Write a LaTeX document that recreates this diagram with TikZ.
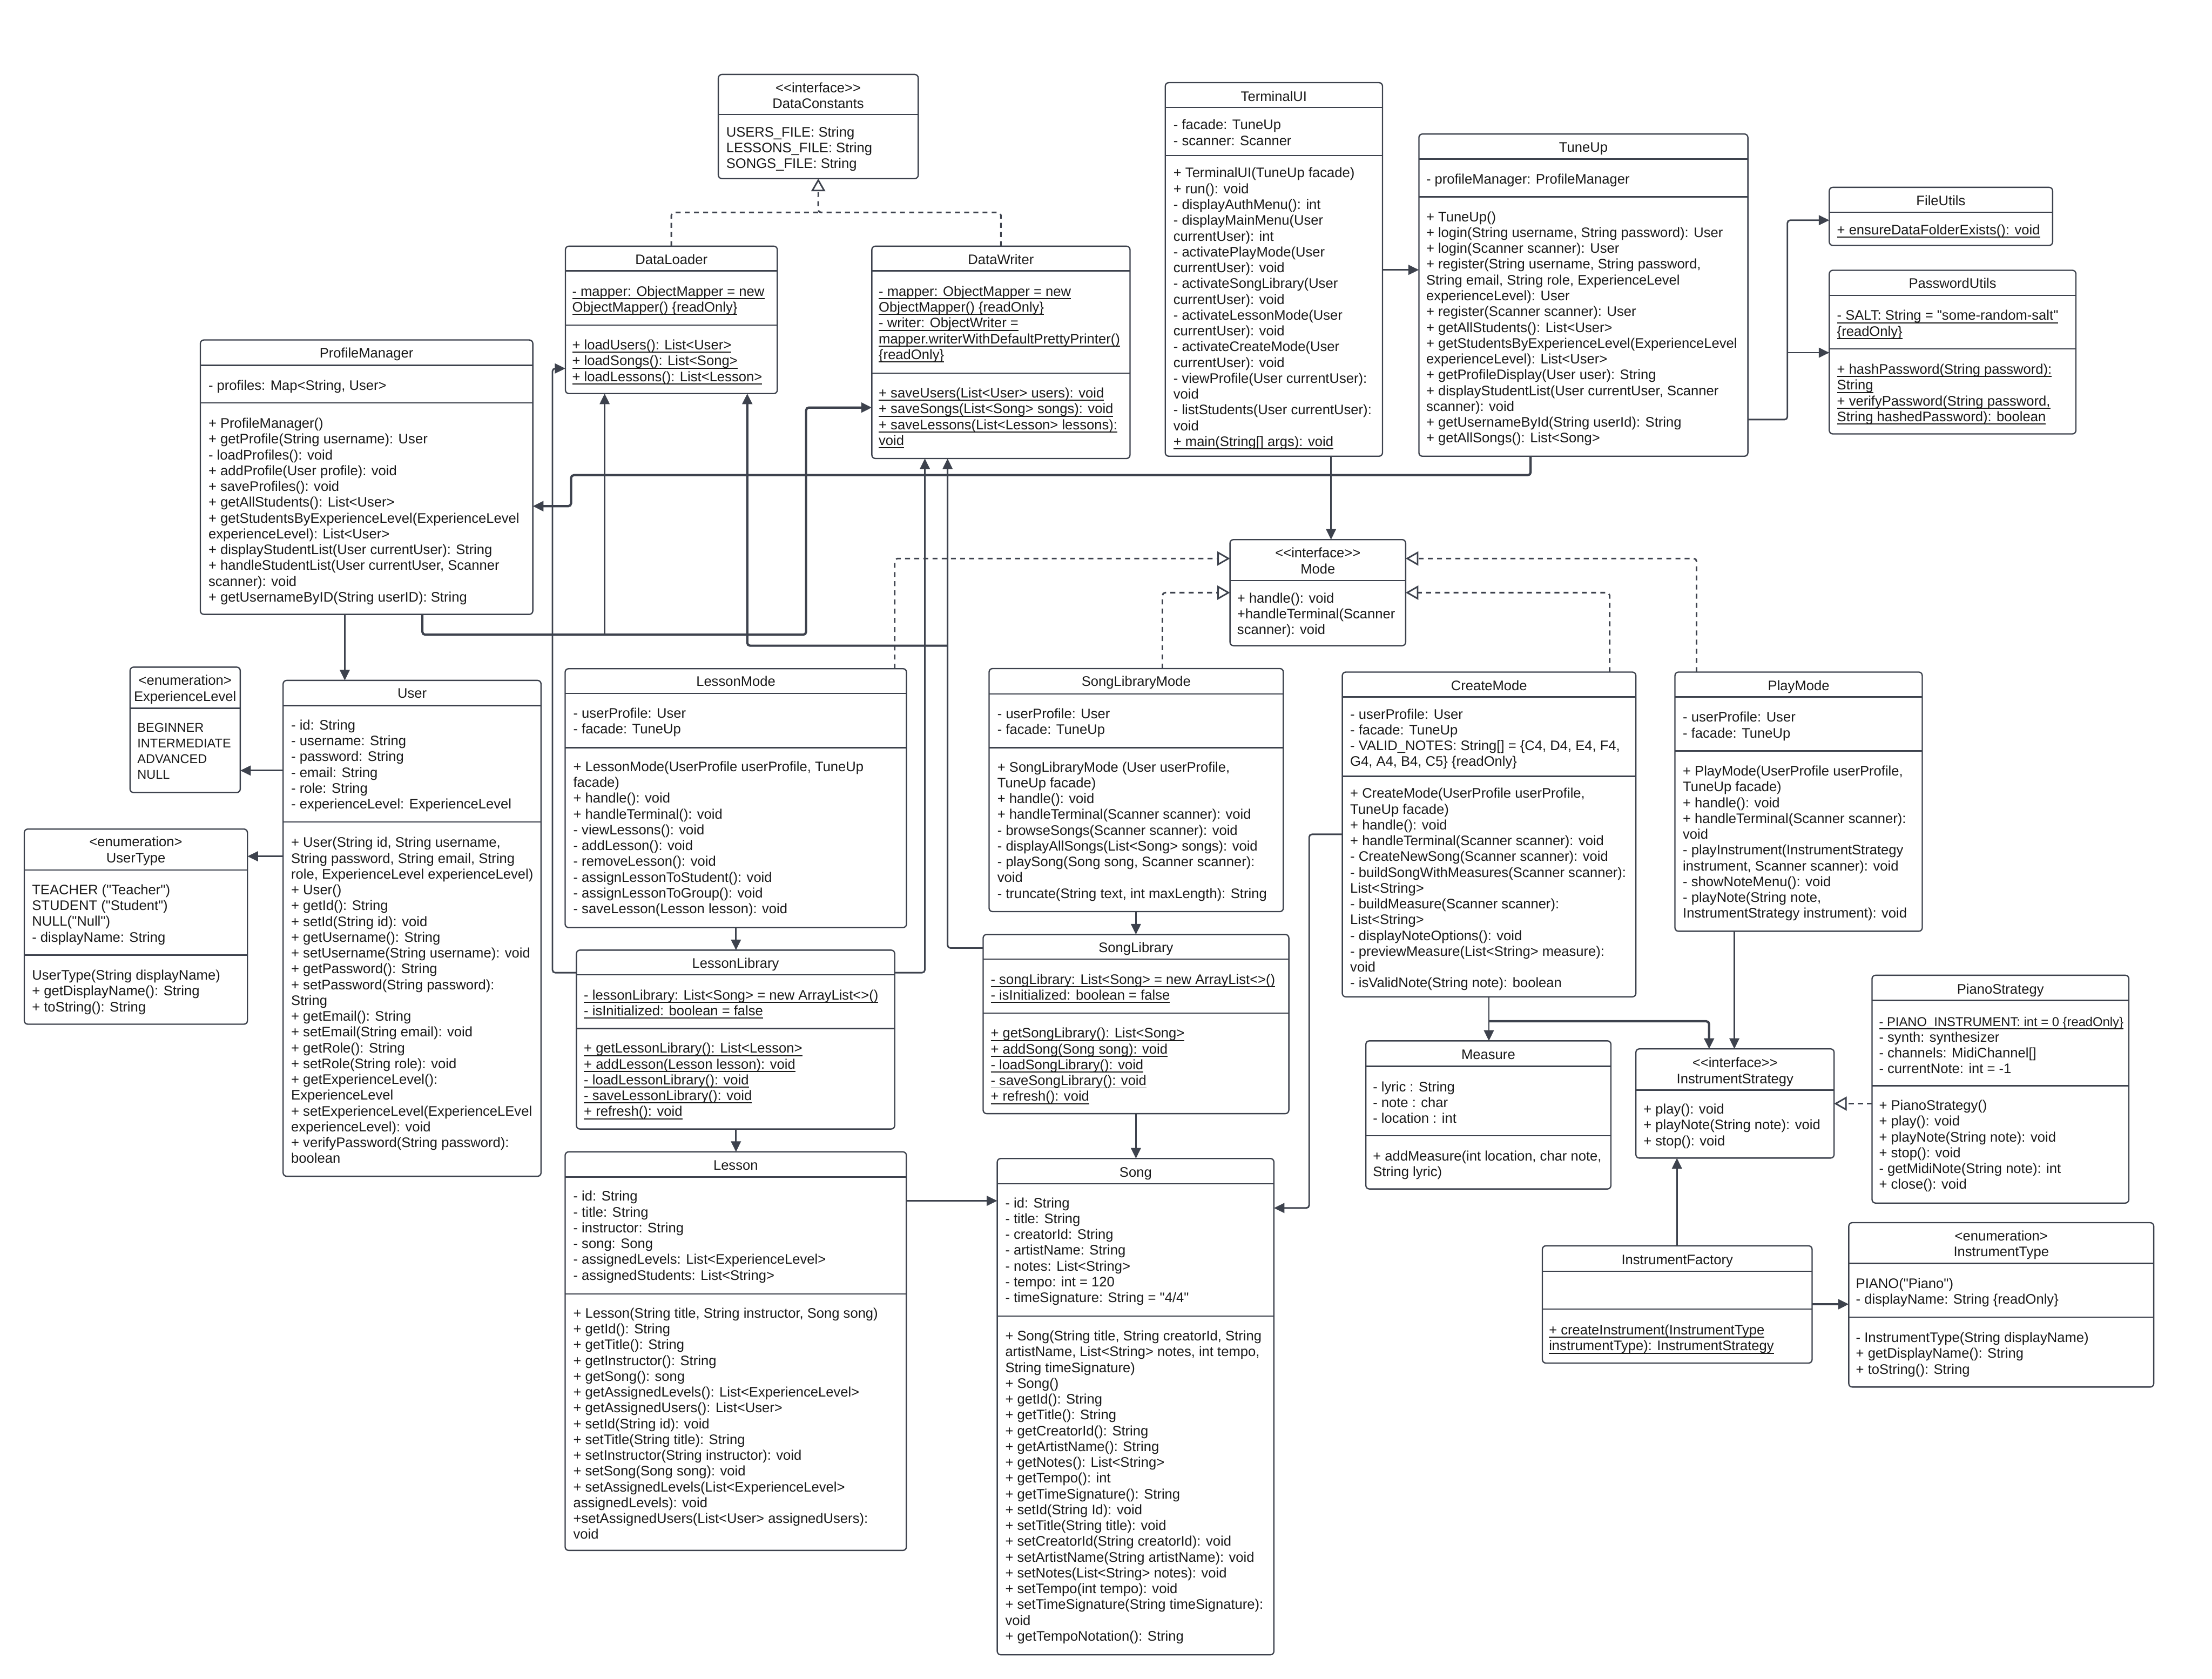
\documentclass[tikz,border=0pt]{standalone}
\usepackage{fontspec}
\setmainfont{Liberation Sans}[Ligatures=TeXOff]
\usetikzlibrary{arrows.meta}
\definecolor{ln}{HTML}{3D424D}
\definecolor{tx}{HTML}{1A1A1A}
\newsavebox\ulbx
\newcommand\uln[1]{\sbox\ulbx{#1}\rlap{\rule[-2.2pt]{\wd\ulbx}{0.75pt}}\usebox\ulbx}
\tikzset{
 clsbox/.style={draw=ln, line width=0.9pt, rounded corners=2.5pt, fill=white, inner sep=0pt, outer sep=0pt},
 divline/.style={draw=ln, line width=0.9pt},
 txt/.style={anchor=north west, inner sep=0pt, align=left, font=\fontsize{9.8}{11.2}\selectfont, text=tx},
 ttl/.style={anchor=north, inner sep=0pt, align=center, font=\fontsize{9.8}{11.2}\selectfont, text=tx},
 assoc/.style={draw=ln, line width=1.1pt, rounded corners=2pt, -{Triangle[length=7.5pt,width=7pt]}},
 bold/.style={line width=1.6pt},
 real/.style={draw=ln, line width=1.1pt, rounded corners=2pt, dash pattern=on 3.5pt off 3pt, -{Triangle[open,length=9pt,width=10pt,line width=1.1pt]}},
 realplain/.style={draw=ln, line width=1.1pt, rounded corners=2pt, dash pattern=on 3.5pt off 3pt},
}
\newcommand\umlbox[6]{%
 \node[clsbox, anchor=north west, minimum width={(#4-#2)*1pt}, minimum height={(#5-#3)*1pt}] (#1) at (#2,#3) {};
 \foreach \dv in {#6} {\draw[divline] (#2,\dv) -- (#4,\dv);}
}
\begin{document}
\begin{tikzpicture}[x=1pt,y=-1pt]
\useasboundingbox[fill=white] (0,0) rectangle (1568,1190);

% ---------- boxes ----------
\umlbox{DC}{509.2}{52.8}{650.9}{126.6}{81.2}
\node[ttl] (DCt) at (580,57.7) {\strut <<interface>>\\DataConstants};
\node[txt] (DCa) at (514.6,89) {\strut USERS\_FILE: String\\LESSONS\_FILE: String\\SONGS\_FILE: String};

\umlbox{DL}{400.8}{174.5}{551}{279}{192,230.4}
\node[ttl] (DLt) at (475.9,179.4) {\strut DataLoader};
\node[txt] (DLa) at (405.4,201.9) {\strut\uln{- mapper: ObjectMapper = new}\\\uln{ObjectMapper() \{readOnly\}}};
\node[txt] (DLm) at (405.4,239.9) {\strut\uln{+ loadUsers(): List<User>}\\\uln{+ loadSongs(): List<Song>}\\\uln{+ loadLessons(): List<Lesson>}};

\umlbox{DW}{618}{174.5}{801}{325}{192,264.5}
\node[ttl] (DWt) at (709.5,179.4) {\strut DataWriter};
\node[txt] (DWa) at (622.7,201.9) {\strut\uln{- mapper: ObjectMapper = new}\\\uln{ObjectMapper() \{readOnly\}}\\\uln{- writer: ObjectWriter =}\\\uln{mapper.writerWithDefaultPrettyPrinter()}\\\uln{\{readOnly\}}};
\node[txt] (DWm) at (622.7,273.9) {\strut\uln{+ saveUsers(List<User> users): void}\\\uln{+ saveSongs(List<Song> songs): void}\\\uln{+ saveLessons(List<Lesson> lessons):}\\\uln{void}};

\umlbox{TUI}{826}{58.6}{980}{323.4}{76.3,110.2}
\node[ttl] (TUIt) at (903,63.7) {\strut TerminalUI};
\node[txt] (TUIa) at (831.6,83.8) {\strut - facade: TuneUp\\- scanner: Scanner};
\node[txt] (TUIm) at (831.6,117.9) {\strut + TerminalUI(TuneUp facade)\\+ run(): void\\- displayAuthMenu(): int\\- displayMainMenu(User\\currentUser): int\\- activatePlayMode(User\\currentUser): void\\- activateSongLibrary(User\\currentUser): void\\- activateLessonMode(User\\currentUser): void\\- activateCreateMode(User\\currentUser): void\\- viewProfile(User currentUser):\\void\\- listStudents(User currentUser):\\void\\\uln{+ main(String[] args): void}};

\umlbox{TU}{1005.8}{95}{1239}{323.4}{112.7,139.5}
\node[ttl] (TUt) at (1122.4,99.7) {\strut TuneUp};
\node[txt] (TUa) at (1010.8,122.3) {\strut - profileManager: ProfileManager};
\node[txt] (TUm) at (1010.8,149) {\strut + TuneUp()\\+ login(String username, String password): User\\+ login(Scanner scanner): User\\+ register(String username, String password,\\String email, String role, ExperienceLevel\\experienceLevel): User\\+ register(Scanner scanner): User\\+ getAllStudents(): List<User>\\+ getStudentsByExperienceLevel(ExperienceLevel\\experienceLevel): List<User>\\+ getProfileDisplay(User user): String\\+ displayStudentList(User currentUser, Scanner\\scanner): void\\+ getUsernameById(String userId): String\\+ getAllSongs(): List<Song>};

\umlbox{FU}{1296.7}{132.8}{1455}{174}{150.5}
\node[ttl] (FUt) at (1375.8,137.5) {\strut FileUtils};
\node[txt] (FUm) at (1302,158.2) {\strut\uln{+ ensureDataFolderExists(): void}};

\umlbox{PU}{1296.7}{191.6}{1471.5}{307.6}{209.3,247.3}
\node[ttl] (PUt) at (1384.1,196.2) {\strut PasswordUtils};
\node[txt] (PUa) at (1302,218.9) {\strut\uln{- SALT: String = "some-random-salt"}\\\uln{\{readOnly\}}};
\node[txt] (PUm) at (1302,257.1) {\strut\uln{+ hashPassword(String password):}\\\uln{String}\\\uln{+ verifyPassword(String password,}\\\uln{String hashedPassword): boolean}};

\umlbox{PM}{142}{241}{377.7}{435.5}{259,285.6}
\node[ttl] (PMt) at (259.8,245.7) {\strut ProfileManager};
\node[txt] (PMa) at (147.6,268.7) {\strut - profiles: Map<String, User>};
\node[txt] (PMm) at (147.6,295.4) {\strut + ProfileManager()\\+ getProfile(String username): User\\- loadProfiles(): void\\+ addProfile(User profile): void\\+ saveProfiles(): void\\+ getAllStudents(): List<User>\\+ getStudentsByExperienceLevel(ExperienceLevel\\experienceLevel): List<User>\\+ displayStudentList(User currentUser): String\\+ handleStudentList(User currentUser, Scanner\\scanner): void\\+ getUsernameByID(String userID): String};

\umlbox{EL}{92.2}{472.9}{170.3}{561.8}{502}
\node[ttl] (ELt) at (131.2,477.7) {\strut <enumeration>\\ExperienceLevel};
\node[txt, font=\fontsize{9}{11.2}\selectfont] (ELa) at (97.2,510.7) {\strut BEGINNER\\INTERMEDIATE\\ADVANCED\\NULL};

\umlbox{UT}{17.2}{587.7}{175.4}{726}{616.6,677}
\node[ttl] (UTt) at (96.3,592.2) {\strut <enumeration>\\UserType};
\node[txt] (UTa) at (22.5,626) {\strut TEACHER ("Teacher")\\STUDENT ("Student")\\NULL("Null")\\- displayName: String};
\node[txt] (UTm) at (22.5,686.6) {\strut UserType(String displayName)\\+ getDisplayName(): String\\+ toString(): String};

\umlbox{US}{200.7}{482.3}{383.5}{833.8}{500.1,582.7}
\node[ttl] (USt) at (292.1,486.6) {\strut User};
\node[txt] (USa) at (206.2,509.3) {\strut - id: String\\- username: String\\- password: String\\- email: String\\- role: String\\- experienceLevel: ExperienceLevel};
\node[txt] (USm) at (206.2,592.5) {\strut + User(String id, String username,\\String password, String email, String\\role, ExperienceLevel experienceLevel)\\+ User()\\+ getId(): String\\+ setId(String id): void\\+ getUsername(): String\\+ setUsername(String username): void\\+ getPassword(): String\\+ setPassword(String password):\\String\\+ getEmail(): String\\+ setEmail(String email): void\\+ getRole(): String\\+ setRole(String role): void\\+ getExperienceLevel():\\ExperienceLevel\\+ setExperienceLevel(ExperienceLEvel\\experienceLevel): void\\+ verifyPassword(String password):\\boolean};

\umlbox{LM}{400.6}{474}{642.6}{657.5}{491.6,530}
\node[ttl] (LMt) at (521.6,478.4) {\strut LessonMode};
\node[txt] (LMa) at (406.2,500.9) {\strut - userProfile: User\\- facade: TuneUp};
\node[txt] (LMm) at (406.2,538.7) {\strut + LessonMode(UserProfile userProfile, TuneUp\\facade)\\+ handle(): void\\+ handleTerminal(): void\\- viewLessons(): void\\- addLesson(): void\\- removeLesson(): void\\- assignLessonToStudent(): void\\- assignLessonToGroup(): void\\- saveLesson(Lesson lesson): void};

\umlbox{LL}{408.6}{673.5}{634.2}{800.3}{691,729}
\node[ttl] (LLt) at (521.4,678.3) {\strut LessonLibrary};
\node[txt] (LLa) at (413.7,700.7) {\strut\uln{- lessonLibrary: List<Song> = new ArrayList<>()}\\\uln{- isInitialized: boolean = false}};
\node[txt] (LLm) at (413.7,738.4) {\strut\uln{+ getLessonLibrary(): List<Lesson>}\\\uln{+ addLesson(Lesson lesson): void}\\\uln{- loadLessonLibrary(): void}\\\uln{- saveLessonLibrary(): void}\\\uln{+ refresh(): void}};

\umlbox{LE}{400.6}{816.5}{642.5}{1099}{834.3,917.3}
\node[ttl] (LEt) at (521.5,821.2) {\strut Lesson};
\node[txt] (LEa) at (406.2,843.3) {\strut - id: String\\- title: String\\- instructor: String\\- song: Song\\- assignedLevels: List<ExperienceLevel>\\- assignedStudents: List<String>};
\node[txt] (LEm) at (406.2,926.1) {\strut + Lesson(String title, String instructor, Song song)\\+ getId(): String\\+ getTitle(): String\\+ getInstructor(): String\\+ getSong(): song\\+ getAssignedLevels(): List<ExperienceLevel>\\+ getAssignedUsers(): List<User>\\+ setId(String id): void\\+ setTitle(String title): String\\+ setInstructor(String instructor): void\\+ setSong(Song song): void\\+ setAssignedLevels(List<ExperienceLevel>\\assignedLevels): void\\+setAssignedUsers(List<User> assignedUsers):\\void};

\umlbox{SLM}{701.1}{473.9}{909.7}{646.2}{491.8,530}
\node[ttl] (SLMt) at (805.4,478.3) {\strut SongLibraryMode};
\node[txt] (SLMa) at (706.8,501.1) {\strut - userProfile: User\\- facade: TuneUp};
\node[txt] (SLMm) at (706.8,539) {\strut + SongLibraryMode (User userProfile,\\TuneUp facade)\\+ handle(): void\\+ handleTerminal(Scanner scanner): void\\- browseSongs(Scanner scanner): void\\- displayAllSongs(List<Song> songs): void\\- playSong(Song song, Scanner scanner):\\void\\- truncate(String text, int maxLength): String};

\umlbox{SL}{696.9}{662.4}{913.6}{789.4}{679.9,718.2}
\node[ttl] (SLt) at (805.2,667) {\strut SongLibrary};
\node[txt] (SLa) at (702.1,689.5) {\strut\uln{- songLibrary: List<Song> = new ArrayList<>()}\\\uln{- isInitialized: boolean = false}};
\node[txt] (SLm) at (702.1,727.7) {\strut\uln{+ getSongLibrary(): List<Song>}\\\uln{+ addSong(Song song): void}\\\uln{- loadSongLibrary(): void}\\\uln{- saveSongLibrary(): void}\\\uln{+ refresh(): void}};

\umlbox{SO}{706.9}{821.2}{903}{1173}{839.2,932.9}
\node[ttl] (SOt) at (805,826.2) {\strut Song};
\node[txt] (SOa) at (712.4,848) {\strut - id: String\\- title: String\\- creatorId: String\\- artistName: String\\- notes: List<String>\\- tempo: int = 120\\- timeSignature: String = "4/4"};
\node[txt] (SOm) at (712.4,942.3) {\strut + Song(String title, String creatorId, String\\artistName, List<String> notes, int tempo,\\String timeSignature)\\+ Song()\\+ getId(): String\\+ getTitle(): String\\+ getCreatorId(): String\\+ getArtistName(): String\\+ getNotes(): List<String>\\+ getTempo(): int\\+ getTimeSignature(): String\\+ setId(String Id): void\\+ setTitle(String title): void\\+ setCreatorId(String creatorId): void\\+ setArtistName(String artistName): void\\+ setNotes(List<String> notes): void\\+ setTempo(int tempo): void\\+ setTimeSignature(String timeSignature):\\void\\+ getTempoNotation(): String};

\umlbox{MO}{871.9}{382.5}{996.4}{457.7}{411.6}
\node[ttl] (MOt) at (934.2,387.4) {\strut <<interface>>\\Mode};
\node[txt] (MOm) at (876.8,419.3) {\strut + handle(): void\\+handleTerminal(Scanner\\scanner): void};

\umlbox{CM}{951.5}{476.4}{1159.6}{706.6}{494,550.3}
\node[ttl] (CMt) at (1055.5,481.2) {\strut CreateMode};
\node[txt] (CMa) at (956.9,501.5) {\strut - userProfile: User\\- facade: TuneUp\\- VALID\_NOTES: String[] = \{C4, D4, E4, F4,\\G4, A4, B4, C5\} \{readOnly\}};
\node[txt] (CMm) at (956.9,557.7) {\strut + CreateMode(UserProfile userProfile,\\TuneUp facade)\\+ handle(): void\\+ handleTerminal(Scanner scanner): void\\- CreateNewSong(Scanner scanner): void\\- buildSongWithMeasures(Scanner scanner):\\List<String>\\- buildMeasure(Scanner scanner):\\List<String>\\- displayNoteOptions(): void\\- previewMeasure(List<String> measure):\\void\\- isValidNote(String note): boolean};

\umlbox{PL}{1187.3}{476.4}{1362.6}{660.1}{494,532.3}
\node[ttl] (PLt) at (1275,481.2) {\strut PlayMode};
\node[txt] (PLa) at (1192.7,503.7) {\strut - userProfile: User\\- facade: TuneUp};
\node[txt] (PLm) at (1192.7,541.9) {\strut + PlayMode(UserProfile userProfile,\\TuneUp facade)\\+ handle(): void\\+ handleTerminal(Scanner scanner):\\void\\- playInstrument(InstrumentStrategy\\instrument, Scanner scanner): void\\- showNoteMenu(): void\\- playNote(String note,\\InstrumentStrategy instrument): void};

\umlbox{ME}{968.2}{737.8}{1141.9}{842.8}{755.8,805}
\node[ttl] (MEt) at (1055,742.9) {\strut Measure};
\node[txt] (MEa) at (973,765.7) {\strut - lyric : String\\- note : char\\- location : int};
\node[txt] (MEm) at (973,814.7) {\strut + addMeasure(int location, char note,\\String lyric)};

\umlbox{IS}{1159.6}{743.5}{1300.1}{820.9}{772.7}
\node[ttl] (ISt) at (1229.9,748.7) {\strut <<interface>>\\InstrumentStrategy};
\node[txt] (ISm) at (1164.8,781.5) {\strut + play(): void\\+ playNote(String note): void\\+ stop(): void};

\umlbox{PS}{1327}{691.3}{1509}{852.8}{709.2,769.6}
\node[ttl] (PSt) at (1418,696.7) {\strut PianoStrategy};
\node[txt] (PSa) at (1331.8,719.3) {\strut{\fontsize{9.1}{11.2}\selectfont\uln{- PIANO\_INSTRUMENT: int = 0 \{readOnly\}}}\\- synth: synthesizer\\- channels: MidiChannel[]\\- currentNote: int = -1};
\node[txt] (PSm) at (1331.8,778.9) {\strut + PianoStrategy()\\+ play(): void\\+ playNote(String note): void\\+ stop(): void\\- getMidiNote(String note): int\\+ close(): void};

\umlbox{IF}{1093.3}{883.1}{1284.5}{966.2}{901.2,928}
\node[ttl] (IFt) at (1188.9,888.3) {\strut InstrumentFactory};
\node[txt] (IFm) at (1097.8,938.1) {\strut\uln{+ createInstrument(InstrumentType}\\\uln{instrumentType): InstrumentStrategy}};

\umlbox{IT}{1310.5}{866.7}{1526.7}{983.2}{895.6,933.7}
\node[ttl] (ITt) at (1418.6,871.4) {\strut <enumeration>\\InstrumentType};
\node[txt] (ITa) at (1315.4,905.2) {\strut PIANO("Piano")\\- displayName: String \{readOnly\}};
\node[txt] (ITm) at (1315.4,943.5) {\strut - InstrumentType(String displayName)\\+ getDisplayName(): String\\+ toString(): String};

% ---------- connectors ----------
\draw[assoc] (TUI.east |- 0,191.3) -- (TU.west |- 0,191.3);
\draw[assoc] (TUI.south -| 943.5,0) -- (MO.north -| 943.5,0);
\draw[assoc,bold] (TU.south -| 1085,0) |- (404.8,336.8) |- (PM.east |- 0,358.8);
\draw[assoc] (TU.east |- 0,297.4) -| (1267,156.1) -- (FU.west |- 0,156.1);
\draw[assoc] (1267,250) -- (PU.west |- 0,250);

\draw[realplain] (DL.north) |- (580,150.6);
\draw[real] (DW.north) |- (580,150.6) -- (DC.south);

\draw[assoc] (PM.south -| 244.4,0) -- (US.north -| 244.4,0);
\draw[assoc,bold] (PM.south -| 299.4,0) |- (571.4,449.9) -- (571.4,288.9) -- (DW.west |- 0,288.9);
\draw[assoc] (428.6,449.9) -- (DL.south -| 428.6,0);
\draw[assoc,bold] (671.7,457.7) -| (DL.south -| 529.7,0);

\draw[assoc] (US.west |- 0,546.2) -- (EL.east |- 0,546.2);
\draw[assoc] (US.west |- 0,607) -- (UT.east |- 0,607);

\draw[assoc] (LM.south -| 521.7,0) -- (LL.north -| 521.7,0);
\draw[assoc] (LL.south -| 521.7,0) -- (LE.north -| 521.7,0);
\draw[assoc] (LE.east |- 0,851.2) -- (SO.west |- 0,851.2);
\draw[assoc] (SLM.south -| 805.2,0) -- (SL.north -| 805.2,0);
\draw[assoc] (SL.south -| 805.2,0) -- (SO.north -| 805.2,0);
\draw[assoc] (LL.west |- 0,689.5) -| (391.6,261.2) -- (DL.west |- 0,261.2);
\draw[assoc] (LL.east |- 0,689.5) -| (DW.south -| 655.6,0);
\draw[assoc] (SL.west |- 0,672) -| (DW.south -| 671.7,0);

\draw[assoc] (CM.west |- 0,591.4) -| (928,856.3) -- (SO.east |- 0,856.3);
\draw[assoc] (CM.south -| 1055.4,0) -- (ME.north -| 1055.4,0);
\draw[assoc,bold] (1055.4,723.9) -| (IS.north -| 1211.5,0);
\draw[assoc] (PL.south -| 1229.4,0) -- (IS.north -| 1229.4,0);
\draw[assoc] (IF.north -| 1188.7,0) -- (IS.south -| 1188.7,0);
\draw[assoc,bold] (IF.east |- 0,924.5) -- (IT.west |- 0,924.5);
\draw[real] (PS.west |- 0,782.3) -- (IS.east |- 0,782.3);

\draw[real] (LM.north -| 634.2,0) |- (MO.west |- 0,395.9);
\draw[real] (SLM.north -| 824,0) |- (MO.west |- 0,420.1);
\draw[real] (CM.north -| 1141,0) |- (MO.east |- 0,420.1);
\draw[real] (PL.north -| 1202.6,0) |- (MO.east |- 0,395.9);
\end{tikzpicture}
\end{document}
